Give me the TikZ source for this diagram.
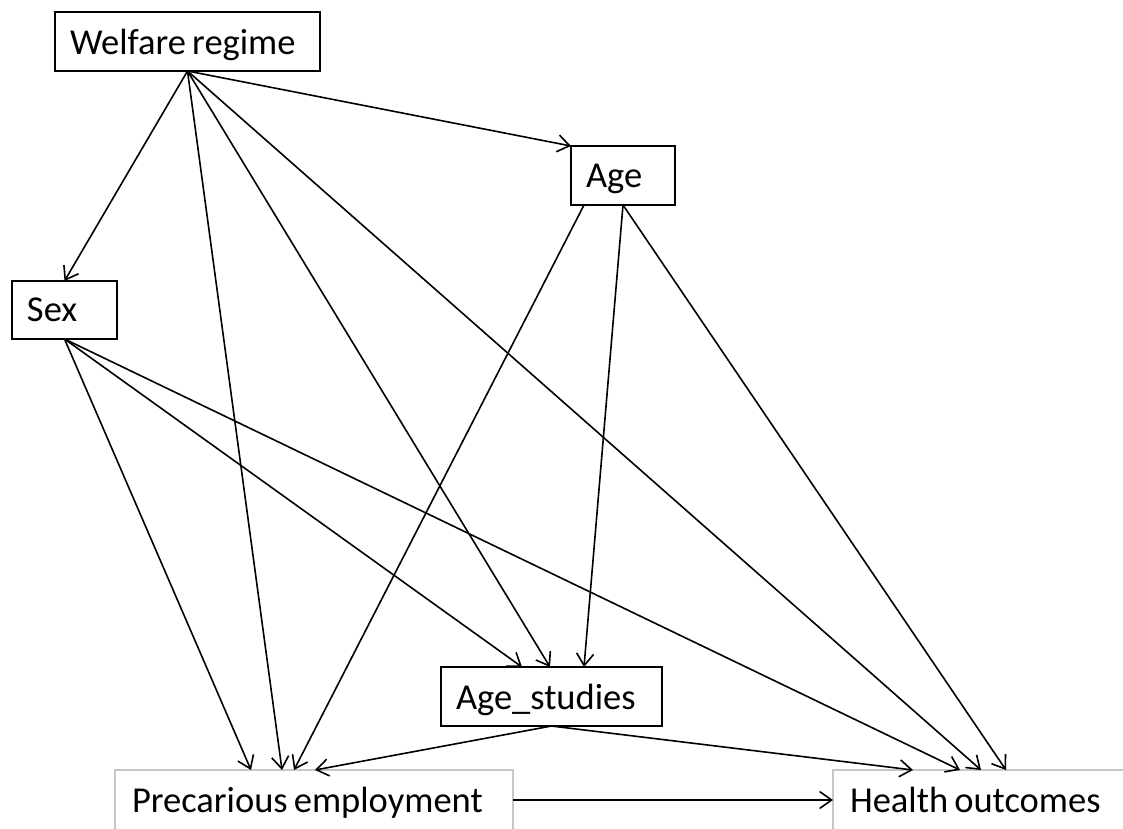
\documentclass[tikz,border=0pt]{standalone}
\usepackage{fontspec}
\setmainfont{Carlito}
\usetikzlibrary{arrows.meta,calc}
\begin{document}
\begin{tikzpicture}[x=1pt,y=-1pt,
  every node/.style={font=\fontsize{36.5}{40}\selectfont, execute at begin node={\spaceskip=0.17em\relax}, inner xsep=15pt, inner ysep=0pt, text depth=0pt, align=left, outer sep=0pt},
  box/.style={draw=black, line width=1.8pt},
  gbox/.style={draw=black!22, line width=1.3pt},
  conn/.style={line width=1.6pt, -{Straight Barb[length=12pt,width=17pt,line width=1.6pt]}}]
\clip (0,0) rectangle (1123,828);
\fill[white] (0,0) rectangle (1123,828);
% nodes
\node[box, text width=235pt, minimum height=59pt] (welfare) at (187.5,41.5) {Welfare regime};
\node[box, text width=74pt, minimum height=59pt] (age) at (623,175.5) {Age};
\node[box, text width=75pt, minimum height=58pt] (sex) at (64.5,310) {Sex};
\node[box, text width=191pt, minimum height=59pt] (agestudies) at (551.5,696.5) {Age\_studies};
\node[gbox, inner xsep=17pt, text width=364pt, minimum height=60pt] (prec) at (314,800) {Precarious employment};
\node[gbox, inner xsep=17pt, text width=286pt, minimum height=60pt] (health) at (993,800) {Health outcomes};
% anchor points
\coordinate (ageout) at ($(age.south west)+(13,0)$);
\coordinate (p1) at ($(prec.north west)+(136,0)$);
\coordinate (p2) at ($(prec.north west)+(167,0)$);
\coordinate (p3) at ($(prec.north west)+(179,0)$);
\coordinate (p4) at ($(prec.north west)+(200,0)$);
\coordinate (h1) at ($(health.north west)+(80,0)$);
\coordinate (h2) at ($(health.north west)+(127,0)$);
\coordinate (h3) at ($(health.north west)+(148,0)$);
\coordinate (h4) at ($(health.north west)+(173,0)$);
\coordinate (s1) at ($(agestudies.north west)+(81,0)$);
\coordinate (s2) at ($(agestudies.north west)+(109,0)$);
\coordinate (s3) at ($(agestudies.north west)+(143,0)$);
% connectors
\draw[conn] (welfare.south) -- (sex.north);
\draw[conn] (welfare.south) -- (age.north west);
\draw[conn] (welfare.south) -- (p2);
\draw[conn] (welfare.south) -- (s2);
\draw[conn] (welfare.south) -- (h3);
\draw[conn] (ageout) -- (p3);
\draw[conn] (age.south) -- (s3);
\draw[conn] (age.south) -- (h4);
\draw[conn] (sex.south) -- (p1);
\draw[conn] (sex.south) -- (s1);
\draw[conn] (sex.south) -- (h2);
\draw[conn] (agestudies.south) -- (p4);
\draw[conn] (agestudies.south) -- (h1);
\draw[conn] (prec.east) -- (health.west);
\end{tikzpicture}
\end{document}
